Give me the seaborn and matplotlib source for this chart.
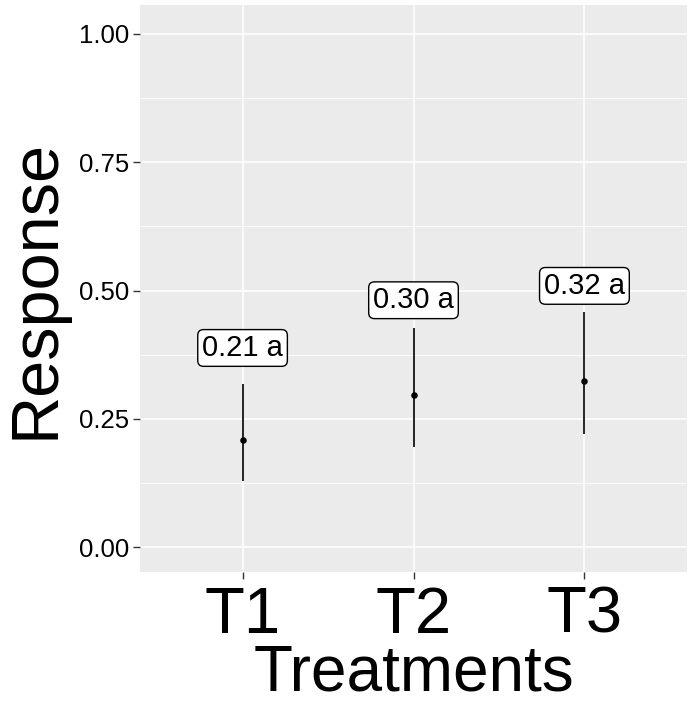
import matplotlib
matplotlib.use("Agg")
import matplotlib.pyplot as plt
import seaborn as sns
import numpy as np
import pandas as pd

# values
treatments = ["T1", "T2", "T3"]
means = [0.208, 0.297, 0.324]
lower = [0.129, 0.195, 0.220]
upper = [0.318, 0.427, 0.458]
labels = ["0.21 a", "0.30 a", "0.32 a"]
label_y = [0.388, 0.481, 0.509]
yticks = [0.00, 0.25, 0.50, 0.75, 1.00]
ytick_labels = ["0.00", "0.25", "0.50", "0.75", "1.00"]

df = pd.DataFrame({"Treatment": treatments, "Response": means,
                   "lo": lower, "hi": upper, "lab": labels, "ly": label_y})

sns.set_theme(style="darkgrid", rc={
    "axes.facecolor": "#EBEBEB",
    "grid.color": "white",
    "axes.edgecolor": "#EBEBEB",
})
plt.rcParams["font.family"] = ["Liberation Sans", "DejaVu Sans"]

fig = plt.figure(figsize=(6.97, 7.05), dpi=100)
ax = fig.add_axes([140 / 697, 1 - 572 / 705, 547 / 697, 567 / 705])

sns.scatterplot(data=df, x="Treatment", y="Response", color="black",
                s=22, edgecolor="black", linewidth=0, zorder=4, ax=ax)
ax.vlines(df["Treatment"], df["lo"], df["hi"], color="black",
          linewidth=1.2, zorder=3)

for _, r in df.iterrows():
    ax.text(r["Treatment"], r["ly"], r["lab"], ha="center", va="center",
            fontsize=21, color="black", zorder=5,
            bbox=dict(boxstyle="round,pad=0.15,rounding_size=0.2",
                      facecolor="white", edgecolor="black", linewidth=1.0))

ax.set_xlim(-0.6, 2.6)
ax.set_ylim(-0.0487, 1.0565)
ax.set_yticks(yticks)
ax.set_yticklabels(ytick_labels)
ax.set_yticks([0.125, 0.375, 0.625, 0.875], minor=True)
ax.grid(True, which="major", color="white", linewidth=1.1)
ax.grid(True, which="minor", axis="y", color="white", linewidth=0.6)

ax.tick_params(axis="y", which="major", labelsize=18.5, length=5, width=1,
               color="#333333", labelcolor="black", pad=3, left=True)
ax.tick_params(axis="x", which="major", labelsize=47, length=5, width=1,
               color="#333333", labelcolor="black", pad=5, bottom=True)
ax.tick_params(which="minor", length=0)

ax.set_xlabel("Treatments", fontsize=46, color="black", labelpad=-2)
ax.set_ylabel("Response", fontsize=48, color="black", labelpad=8)
for s in ax.spines.values():
    s.set_visible(False)

fig.savefig("out.png", dpi=100)
